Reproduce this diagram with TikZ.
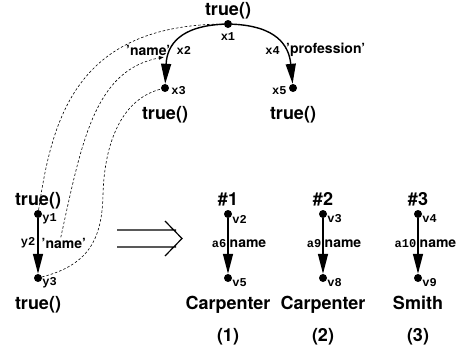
\documentclass[tikz,border=0pt]{standalone}
\usepackage{fontspec}
\setmainfont{TeX Gyre Heros}
\setmonofont{Liberation Mono}
\usetikzlibrary{positioning,arrows.meta}

\tikzset{
	vtx/.style={circle, fill, inner sep=0pt, minimum size=8pt},
	bigtxt/.style={font=\fontsize{18}{20}\selectfont\bfseries, inner sep=0pt, text height=13pt, text depth=4pt},
	lbl/.style={font=\fontsize{14}{16}\selectfont\bfseries, inner sep=0pt},
	idtag/.style={font=\fontsize{12}{14}\selectfont\ttfamily\bfseries, inner sep=0pt},
	treeedge/.style={line width=1.4pt, -{Triangle[length=20pt,width=10pt]}},
	maplink/.style={line width=0.6pt, dash pattern=on 2.5pt off 2pt},
}

\begin{document}
\begin{tikzpicture}[x=1pt, y=-1pt]
	\useasboundingbox (0,0) rectangle (467,351);
	
	%--- query tree (top) ---
	\node[vtx] (x1) at (228,24) {};
	\node[vtx] (x3) at (165,88) {};
	\node[vtx] (x5) at (293,88) {};
	\node[bigtxt, above=0pt of x1] (q1) {true()};
	\node[bigtxt, below=14pt of x3] (q3) {true()};
	\node[bigtxt, below=14pt of x5] (q5) {true()};
	\node[idtag, below=4pt of x1] (lx1) {x1};
	\node[idtag, anchor=west, yshift=-3pt] (lx3) at ([xshift=2pt]x3.east) {x3};
	\node[idtag, anchor=east, yshift=-3pt] (lx5) at ([xshift=-2pt]x5.west) {x5};
	\draw[treeedge] (x1) .. controls (180,26) and (167,45) .. (x3)
		node[pos=0.65, lbl, anchor=east, xshift=-1pt] (nx2) {'name'}
		node[pos=0.65, idtag, anchor=west, xshift=4pt] (lx2) {x2};
	\draw[treeedge] (x1) .. controls (276,26) and (289,45) .. (x5)
		node[pos=0.65, idtag, anchor=east, xshift=-4pt] (lx4) {x4}
		node[pos=0.65, lbl, anchor=west, xshift=1pt] (px4) {'profession'};
	
	%--- path (bottom left) ---
	\node[vtx] (y1) at (38,214) {};
	\node[vtx] (y3) at (38,278) {};
	\node[bigtxt, above=0pt of y1] (p1) {true()};
	\node[bigtxt, below=14pt of y3] (p3) {true()};
	\node[idtag, anchor=west, yshift=-5pt] (ly1) at (y1.east) {y1};
	\node[idtag, anchor=west, yshift=-5pt] (ly3) at (y3.east) {y3};
	\draw[treeedge] (y1) -- (y3)
		node[pos=0.45, idtag, anchor=east, xshift=-2pt] (ly2) {y2}
		node[pos=0.45, lbl, anchor=west, xshift=3pt] (ny2) {'name'};
	
	%--- mapping links ---
	\coordinate (hit) at (164,57);
	\coordinate (bend) at (103,195);
	\draw[maplink] (y1) .. controls (52,120) and (75,25) .. (x1);
	\draw[maplink, -{Latex[length=5pt,width=4pt]}] ([xshift=-3pt]ny2.north) .. controls (82,140) and (95,70) .. (hit);
	\draw[maplink] (y3) .. controls (88,265) and (102,240) .. (bend) .. controls (104,150) and (118,100) .. (x3);
	
	%--- rewrite arrow ---
	\draw[line width=1.2pt] (117,230) -- (176,230) (117,247) -- (176,247) (165,221) -- (182,238.5) -- (165,256);
	
	%--- answers (bottom right) ---
	\foreach \k/\xx/\a/\b/\e/\val in {1/228/v2/v5/a6/Carpenter, 2/323/v3/v8/a9/Carpenter, 3/418/v4/v9/a10/Smith}{
		\node[vtx] (t\k) at (\xx,214) {};
		\node[vtx] (b\k) at (\xx,278) {};
		\node[bigtxt, above=0pt of t\k] (h\k) {\#\k};
		\node[bigtxt, below=14pt of b\k] (w\k) {\val};
		\node[bigtxt, below=15pt of w\k] (n\k) {(\k)};
		\node[idtag, anchor=west, yshift=-5pt] (lt\k) at (t\k.east) {\a};
		\node[idtag, anchor=west, yshift=-5pt] (lb\k) at (b\k.east) {\b};
		\draw[treeedge] (t\k) -- (b\k)
			node[pos=0.45, idtag, anchor=east, xshift=-1pt] (le\k) {\e}
			node[pos=0.45, lbl, anchor=west, xshift=1pt] (ne\k) {name};
	}
\end{tikzpicture}
\end{document}
